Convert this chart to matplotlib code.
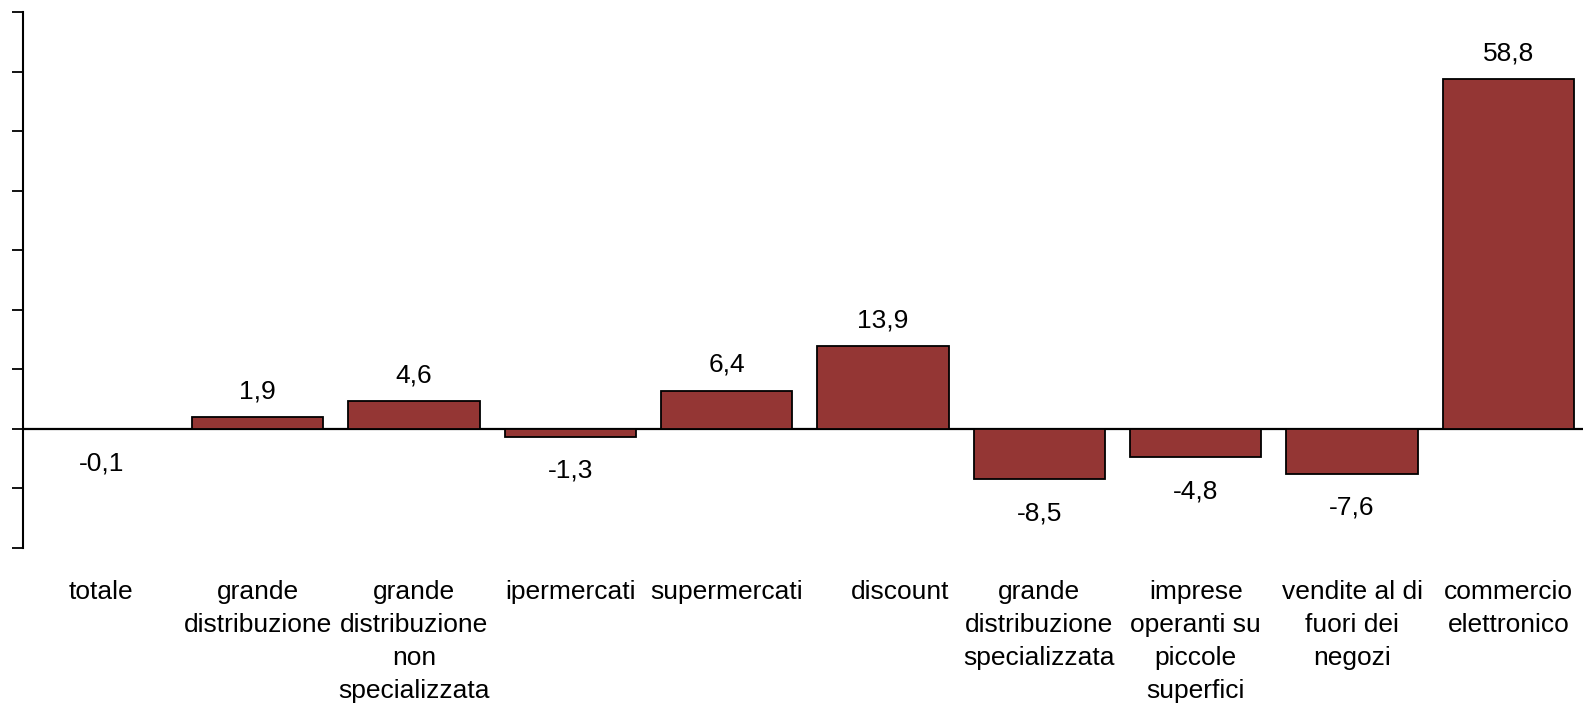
import matplotlib.pyplot as plt
from matplotlib.transforms import ScaledTranslation

categories = [
    "totale",
    "grande\ndistribuzione",
    "grande\ndistribuzione\nnon\nspecializzata",
    "ipermercati",
    "supermercati",
    "discount",
    "grande\ndistribuzione\nspecializzata",
    "imprese\noperanti su\npiccole\nsuperfici",
    "vendite al di\nfuori dei\nnegozi",
    "commercio\nelettronico",
]
values = [-0.1, 1.9, 4.6, -1.3, 6.4, 13.9, -8.5, -4.8, -7.6, 58.8]

BAR_COLOR = "#943634"
FONT_SIZE = 19
plt.rcParams["font.family"] = ["Liberation Sans", "DejaVu Sans"]

fig = plt.figure(figsize=(15.83, 7.14), dpi=100)
ax = fig.add_axes([0.0145, 0.2329, 0.9878, 0.7496])

x = list(range(len(values)))
ax.axhline(0, color="black", linewidth=1.6, zorder=1)
ax.bar(x, values, width=0.84, color=BAR_COLOR, edgecolor="black", linewidth=1.3, zorder=2)

# value labels, decimal comma
for xi, v in zip(x, values):
    label = f"{v:.1f}".replace(".", ",")
    off = 13.5 if v >= 0 else -29.5
    ax.annotate(label, (xi, v), xytext=(0, off), textcoords="offset points",
                ha="center", va="baseline", fontsize=FONT_SIZE)

ax.set_xlim(-0.5, 9.5)
ax.set_ylim(-20, 70)
ax.set_yticks(range(-20, 71, 10))
ax.set_yticklabels([])
ax.set_xticks(x)
ax.set_xticklabels(categories, fontsize=FONT_SIZE, va="top", linespacing=1.48)
ax.tick_params(axis="x", length=0, pad=23)
ax.tick_params(axis="y", direction="out", length=8, width=1.3)

# "discount" sits right-aligned with its bar in the original
lbl = ax.get_xticklabels()[5]
lbl.set_transform(lbl.get_transform() + ScaledTranslation(12 / 72, 0, fig.dpi_scale_trans))

for side in ["top", "right", "bottom"]:
    ax.spines[side].set_visible(False)
ax.spines["left"].set_linewidth(1.5)

fig.savefig("out.png", dpi=100)
